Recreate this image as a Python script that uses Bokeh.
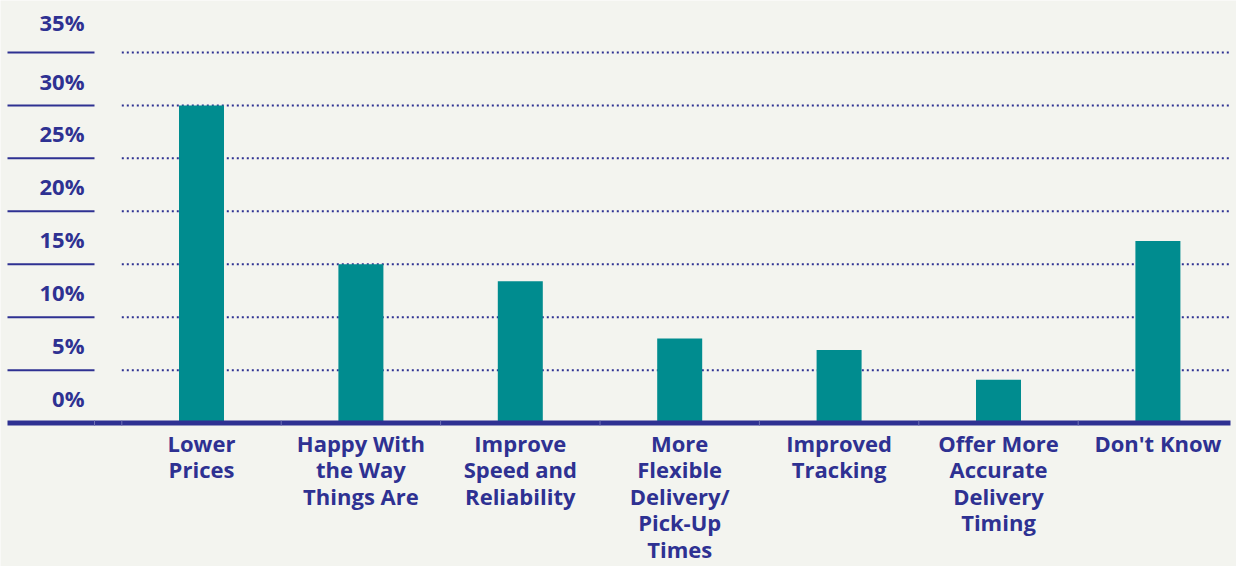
from bokeh.plotting import figure
from bokeh.models import ColumnDataSource, Range1d
from bokeh.core.properties import value
from bokeh.embed import file_html
from bokeh.resources import INLINE

# ---- data ----
categories = [
    "Lower\nPrices",
    "Happy With\nthe Way\nThings Are",
    "Improve\nSpeed and\nReliability",
    "More\nFlexible\nDelivery/\nPick-Up\nTimes",
    "Improved\nTracking",
    "Offer More\nAccurate\nDelivery\nTiming",
    "Don't Know",
]
values = [30.0, 15.0, 13.4, 8.0, 6.9, 4.1, 17.2]
tick_values = [0, 5, 10, 15, 20, 25, 30, 35]
tick_labels = ["0%", "5%", "10%", "15%", "20%", "25%", "30%", "35%"]

# ---- style ----
BG = "#f3f4ef"
NAVY = "#2e3192"
TEAL = "#008c8f"
FONT = "Open Sans"

W, H = 1236, 566
BAND = 159.4          # px per category
X0 = 201.0            # px of first category centre
PX_PER_PCT = 10.59
ZERO_PX = 422.6       # px from top of the zero line


def xd(px):
    return (px - X0) / BAND


p = figure(width=W, height=H, output_backend="svg", toolbar_location=None,
           min_border=0, min_border_left=0, min_border_right=0,
           min_border_top=0, min_border_bottom=0,
           x_range=Range1d(xd(0), xd(W)),
           y_range=Range1d(-(H - ZERO_PX) / PX_PER_PCT, ZERO_PX / PX_PER_PCT))
p.axis.visible = False
p.grid.visible = False
p.outline_line_color = None
p.background_fill_color = BG
p.border_fill_color = BG

xs = list(range(len(categories)))
grid_vals = [v for v in tick_values if v > 0]

# dotted grid lines
p.segment(x0=[-0.5] * len(grid_vals), x1=[xd(1230)] * len(grid_vals),
          y0=grid_vals, y1=grid_vals, line_color=NAVY, line_width=2,
          line_dash=value("2 3"))
# solid tick marks on the left
p.segment(x0=[xd(7)] * len(grid_vals), x1=[xd(94)] * len(grid_vals),
          y0=grid_vals, y1=grid_vals, line_color=NAVY, line_width=2)

# bars
src = ColumnDataSource(dict(x=xs, top=values, cat=categories))
p.vbar(x="x", top="top", bottom=0, width=45 / BAND, source=src,
       fill_color=TEAL, line_color=None)

# baseline
p.segment(x0=[xd(7)], x1=[xd(1230)], y0=[0], y1=[0], line_color=NAVY,
          line_width=5)
# faint separators on baseline
seps = [xd(94), -0.5] + [i + 0.5 for i in range(len(categories) - 1)]
p.segment(x0=seps, x1=seps, y0=[0.24] * len(seps), y1=[-0.24] * len(seps),
          line_color="#6e70b4", line_width=1)

# y tick labels (centred in the band above each tick)
label_y = [v + 2.35 for v in tick_values]
label_y[-1] += 0.5
p.text(x=[xd(84)] * len(tick_values), y=label_y,
       text=tick_labels, text_font=value(FONT), text_font_style="bold",
       text_font_size="22px", text_color=NAVY, text_align="right",
       text_baseline="middle")

# category labels
p.text(x="x", y=0, text="cat", source=src, y_offset=5,
       text_font=value(FONT), text_font_style="bold", text_font_size="22px",
       text_color=NAVY, text_align="center", text_baseline="top",
       text_line_height=0.88)

open("out.html", "w").write(file_html(p, INLINE))
